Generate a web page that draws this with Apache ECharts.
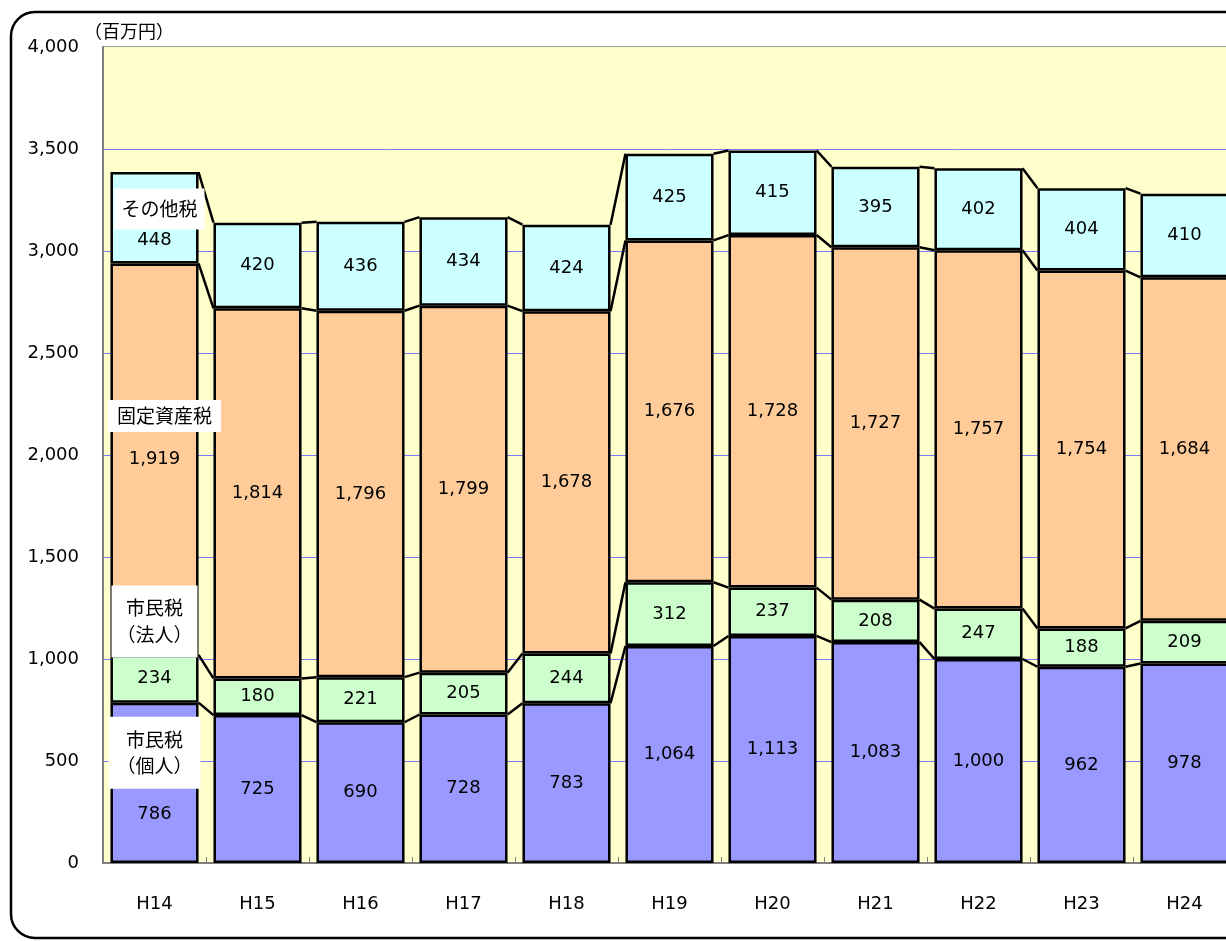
<!DOCTYPE html>
<html>
<head>
<meta charset="utf-8">
<script src="https://cdn.jsdelivr.net/npm/echarts@6/dist/echarts.min.js"></script>
<style>
  html, body { margin: 0; padding: 0; background: #fff; overflow: hidden; }
  #chart { width: 1260px; height: 941px; }
</style>
</head>
<body>
<div id="chart"></div>
<script>
// 年度
const years = ['H14', 'H15', 'H16', 'H17', 'H18', 'H19', 'H20', 'H21', 'H22', 'H23', 'H24'];
// 市民税（個人）
const kojin = [786, 725, 690, 728, 783, 1064, 1113, 1083, 1000, 962, 978];
// 市民税（法人）
const hojin = [234, 180, 221, 205, 244, 312, 237, 208, 247, 188, 209];
// 固定資産税
const kotei = [1919, 1814, 1796, 1799, 1678, 1676, 1728, 1727, 1757, 1754, 1684];
// その他税
const sonota = [448, 420, 436, 434, 424, 425, 415, 395, 402, 404, 410];

const seriesNames = ['市民税（個人）', '市民税（法人）', '固定資産税', 'その他税'];
const seriesData = [kojin, hojin, kotei, sonota];
const colors = ['#9999FF', '#CCFFCC', '#FFCC99', '#CCFFFF'];

const numFont = 'DejaVu Sans';
const jpFont = 'Noto Sans CJK JP';
const BAR_RATIO = 0.855;

// 積み上げの累計（区分線用）
const cum = [];
let run = years.map(() => 0);
seriesData.forEach(arr => {
  run = run.map((v, i) => v + arr[i]);
  cum.push(run.slice());
});

const chart = echarts.init(document.getElementById('chart'));

const fmt = v => Number(v).toLocaleString('en-US');

const barSeries = seriesData.map((arr, k) => ({
  name: seriesNames[k],
  type: 'bar',
  stack: 'total',
  barWidth: (BAR_RATIO * 100) + '%',
  itemStyle: { color: colors[k], borderColor: '#000', borderWidth: 2.5 },
  label: {
    show: true,
    position: 'inside',
    color: '#000',
    fontFamily: numFont,
    fontSize: 18,
    formatter: p => fmt(p.value)
  },
  data: arr.map((v, i) => {
    // H14 は注記と重ならないようにずらす
    if (i === 0 && k === 0) return { value: v, label: { offset: [0, 32] } };
    if (i === 0 && k === 3) return { value: v, label: { offset: [0, 23] } };
    return v;
  })
}));

// 区分線
const lineSeries = {
  type: 'custom',
  z: 5,
  silent: true,
  data: years.slice(0, -1).map((y, i) => [i, 0]),
  encode: { x: 0, y: 1 },
  renderItem: (params, api) => {
    const i = params.dataIndex;
    const hw = api.size([1, 0])[0] * BAR_RATIO / 2;
    const children = cum.map(c => {
      const p1 = api.coord([i, c[i]]);
      const p2 = api.coord([i + 1, c[i + 1]]);
      return {
        type: 'line',
        shape: { x1: p1[0] + hw, y1: p1[1], x2: p2[0] - hw, y2: p2[1] },
        style: { stroke: '#000', lineWidth: 2.5 }
      };
    });
    return { type: 'group', children };
  }
};

// 系列名の注記
const noteSeries = {
  type: 'scatter',
  symbolSize: 0,
  z: 10,
  silent: true,
  itemStyle: { opacity: 1 },
  data: [
    { value: [0, 3206], name: 'その他税', label: { offset: [5, 0], padding: [12, 7, 10, 7] } },
    { value: [0, 2191], name: '固定資産税', label: { offset: [10, 0], padding: [7, 9, 6, 9] } },
    { value: [0, 1184], name: '市民税\n（法人）', label: { lineHeight: 27, padding: [10, 5, 8, 5] } },
    { value: [0, 541], name: '市民税\n（個人）', label: { lineHeight: 26, padding: [11, 8, 9, 8] } }
  ],
  label: {
    show: true,
    position: 'inside',
    formatter: p => p.name,
    color: '#000',
    opacity: 1,
    fontFamily: jpFont,
    fontSize: 19,
    backgroundColor: '#fff',
    align: 'center'
  }
};

chart.setOption({
  animation: false,
  grid: {
    left: 103, right: 24, top: 47, bottom: 78,
    show: true,
    backgroundColor: 'transparent',
    borderColor: '#808080',
    borderWidth: 1.5
  },
  xAxis: {
    type: 'category',
    data: years,
    axisLine: { lineStyle: { color: '#808080', width: 2 } },
    axisTick: { show: true, inside: true, length: 6, lineStyle: { color: '#808080' } },
    axisLabel: { margin: 32, color: '#000', fontFamily: numFont, fontSize: 18 }
  },
  yAxis: {
    type: 'value',
    min: 0,
    max: 4000,
    interval: 500,
    axisLine: { show: true, lineStyle: { color: '#808080', width: 2 } },
    axisTick: { show: false },
    splitArea: { show: true, areaStyle: { color: ['#FFFFCC'] } },
    splitLine: { show: true, showMinLine: false, showMaxLine: false, lineStyle: { color: '#7B7BFF', width: 1 } },
    axisLabel: { margin: 24, color: '#000', fontFamily: numFont, fontSize: 18, formatter: v => fmt(v) }
  },
  graphic: [
    {
      type: 'rect',
      shape: { x: 11, y: 12, width: 1300, height: 926, r: 24 },
      style: { fill: 'none', stroke: '#000', lineWidth: 2.5 },
      silent: true
    },
    {
      type: 'text',
      left: 84,
      top: 22,
      style: { text: '（百万円）', fill: '#000', font: '18px "Noto Sans CJK JP"' }
    }
  ],
  series: [...barSeries, lineSeries, noteSeries]
});
</script>
</body>
</html>
